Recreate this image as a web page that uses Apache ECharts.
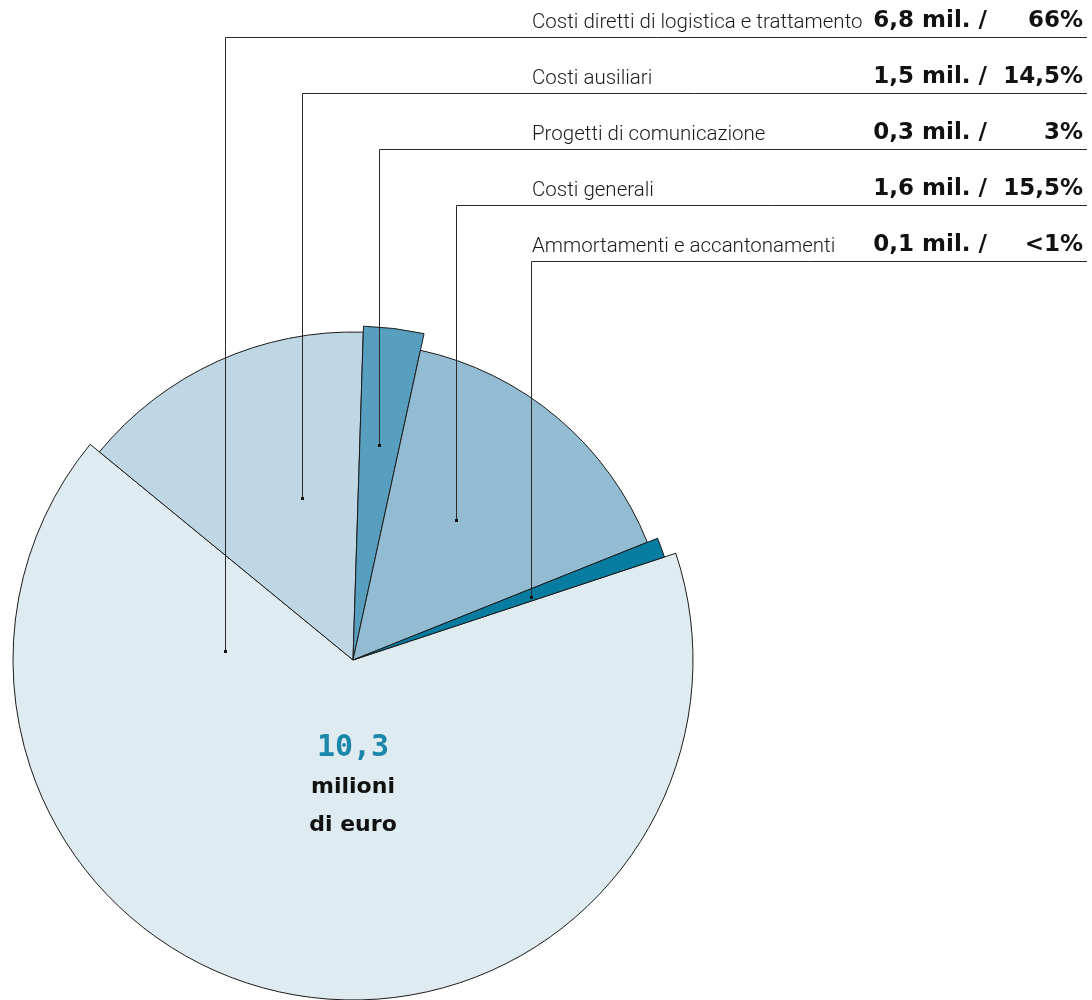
<!DOCTYPE html>
<html>
<head>
<meta charset="utf-8">
<title>Costi 10,3 milioni di euro</title>
<script src="https://cdn.jsdelivr.net/npm/echarts@6/dist/echarts.min.js"></script>
<style>
  html, body { margin: 0; padding: 0; background: #ffffff; }
  #chart { width: 1092px; height: 1000px; }
</style>
</head>
<body>
<div id="chart"></div>
<script>
// Cost breakdown, in millions of euro
const categories = [
  'Costi diretti di logistica e trattamento',
  'Costi ausiliari',
  'Progetti di comunicazione',
  'Costi generali',
  'Ammortamenti e accantonamenti'
];
const valuesMil = [6.8, 1.5, 0.3, 1.6, 0.1];
const valueLabels = ['6,8 mil.', '1,5 mil.', '0,3 mil.', '1,6 mil.', '0,1 mil.'];
const shareLabels = ['66%', '14,5%', '3%', '15,5%', '<1%'];
const totalLabel = '10,3';
const totalUnit = ['milioni', 'di euro'];

// Styling
const sliceColors = ['#deebf1', '#bfd7e4', '#589fbf', '#93bcd2', '#067ca0'];
const sliceRadii = [340, 328, 334, 317, 328];
const pieCenter = [353, 660];
const startAngle = 18.3;
const edgeColor = '#1c1c1c';

// Leader layout: anchor dot inside each slice, row line at the top right
const leaderX = [225.5, 302.5, 379.5, 456.5, 531.5];
const leaderDotY = [651, 498, 445, 520, 597];
const rowLineY = [37.5, 93.5, 149.5, 205.5, 261.5];
const rowRight = 1087;
const labelLeft = 532;
const valueRight = 987;
const shareRight = 1083;

const chart = echarts.init(document.getElementById('chart'), null, { renderer: 'canvas' });

// One pie per slice so each slice can have its own outer radius;
// the other slices in that pie are left invisible.
const series = categories.map((name, i) => ({
  type: 'pie',
  name: name,
  center: pieCenter,
  radius: [0, sliceRadii[i]],
  startAngle: startAngle,
  clockwise: true,
  silent: true,
  animation: false,
  avoidLabelOverlap: false,
  label: { show: false },
  labelLine: { show: false },
  emphasis: { disabled: true },
  z: 2,
  data: valuesMil.map((v, j) => ({
    name: categories[j],
    value: v,
    itemStyle: j === i
      ? { color: sliceColors[i], borderColor: edgeColor, borderWidth: 1, borderJoin: 'miter' }
      : { color: 'rgba(0,0,0,0)', borderWidth: 0 }
  }))
}));

const labelFont = '300 20.5px Roboto';
const valueFont = 'bold 23px "DejaVu Sans"';

const graphics = [];
categories.forEach((name, i) => {
  graphics.push({
    type: 'polyline',
    z: 10,
    silent: true,
    shape: { points: [[leaderX[i], leaderDotY[i]], [leaderX[i], rowLineY[i]], [rowRight, rowLineY[i]]] },
    style: { stroke: '#2a2a2a', lineWidth: 1, fill: null }
  });
  graphics.push({
    type: 'rect',
    z: 11,
    silent: true,
    shape: { x: leaderX[i] - 1.5, y: leaderDotY[i] - 1, width: 3, height: 3 },
    style: { fill: '#111111' }
  });
  graphics.push({
    type: 'text',
    z: 11,
    silent: true,
    style: {
      x: labelLeft, y: rowLineY[i] - 4.5,
      text: name,
      fill: '#1a1a1a',
      font: labelFont,
      textAlign: 'left', textVerticalAlign: 'bottom'
    }
  });
  graphics.push({
    type: 'text',
    z: 11,
    silent: true,
    style: {
      x: valueRight, y: rowLineY[i] - 5,
      text: valueLabels[i] + ' /',
      fill: '#111111',
      font: valueFont,
      textAlign: 'right', textVerticalAlign: 'bottom'
    }
  });
  graphics.push({
    type: 'text',
    z: 11,
    silent: true,
    style: {
      x: shareRight, y: rowLineY[i] - 5,
      text: shareLabels[i],
      fill: '#111111',
      font: valueFont,
      textAlign: 'right', textVerticalAlign: 'bottom'
    }
  });
});

// Total in the middle of the largest slice
graphics.push({
  type: 'text', z: 11, silent: true,
  style: {
    x: pieCenter[0], y: 748, text: totalLabel,
    fill: '#1a86aa', font: 'bold 30px "DejaVu Sans Mono"',
    textAlign: 'center', textVerticalAlign: 'middle'
  }
});
graphics.push({
  type: 'text', z: 11, silent: true,
  style: {
    x: pieCenter[0], y: 787, text: totalUnit[0],
    fill: '#111111', font: 'bold 22px "DejaVu Sans"',
    textAlign: 'center', textVerticalAlign: 'middle'
  }
});
graphics.push({
  type: 'text', z: 11, silent: true,
  style: {
    x: pieCenter[0], y: 825, text: totalUnit[1],
    fill: '#111111', font: 'bold 22px "DejaVu Sans"',
    textAlign: 'center', textVerticalAlign: 'middle'
  }
});

chart.setOption({
  backgroundColor: '#ffffff',
  animation: false,
  series: series,
  graphic: graphics
});
</script>
</body>
</html>
